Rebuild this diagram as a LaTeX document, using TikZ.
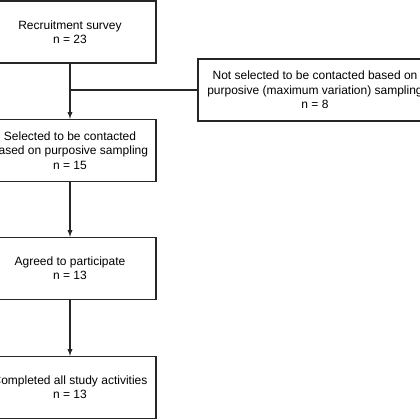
\documentclass[tikz,border=0pt]{standalone}
\usepackage{fontspec}
\setmainfont{Liberation Sans}
\usetikzlibrary{arrows}
\begin{document}
\begin{tikzpicture}[x=1pt,y=1pt]
\tikzset{flowbox/.style={draw=black!85,line width=1.3pt,minimum width=172pt,minimum height=62pt,align=center,font=\fontsize{12}{14.3}\selectfont,inner sep=0pt}}
\clip (0,0) rectangle (420,420);

\node[flowbox] (S) at (70,388) {Recruitment survey\\n = 23};
\node[flowbox] (C) at (70,269.5) {Selected to be contacted\\based on purposive sampling\\n = 15};
\node[flowbox] (P) at (70,151.5) {Agreed to participate\\n = 13};
\node[flowbox] (F) at (70,32.5) {Completed all study activities\\n = 13};
\node[flowbox,minimum width=234pt] (N) at (315,330) {Not selected to be contacted based on\\purposive (maximum variation) sampling\\n = 8};

\coordinate (J) at (70,330);

\path[->,black!85,>=latex,line width=1.3pt] (S) edge (C);
\path[->,black!85,>=latex,line width=1.3pt] (C) edge (P);
\path[->,black!85,>=latex,line width=1.3pt] (P) edge (F);
\path[-,black!85,line width=1.3pt] (J) edge (N.west);
\end{tikzpicture}
\end{document}
